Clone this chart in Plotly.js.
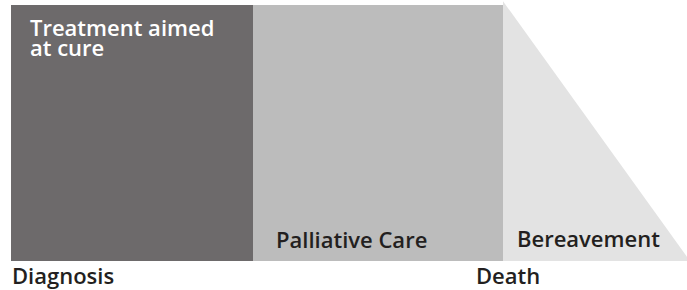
<!DOCTYPE html>
<html><head><meta charset="utf-8">
<script src="https://cdn.plot.ly/plotly-3.0.1.min.js"></script>
<style>html,body{margin:0;padding:0;background:#fff}#chart{width:687px;height:290px}</style>
</head><body><div id="chart"></div>
<script>
// Phases of care along the timeline (arbitrary time units)
const phases = ['Treatment aimed at cure', 'Palliative Care', 'Bereavement'];
const phaseLabelLines = [['Treatment aimed', 'at cure'], ['Palliative Care'], ['Bereavement']];
const phaseStart = [0, 242, 492];
const phaseEnd = [242, 492, 679];
const phaseLevel = [100, 100, 101.5];        // relative intensity at start of phase
const phaseEndLevel = [100, 100, 0];         // bereavement tapers off
const phaseColors = ['#6d6a6b', '#bcbcbc', '#e3e3e3'];
const phaseTextColors = ['#ffffff', '#231f20', '#231f20'];
const milestones = ['Diagnosis', 'Death'];
const milestoneX = [0, 492];

const traces = phases.map((p, i) => ({
  type: 'scatter', mode: 'lines', fill: 'toself',
  x: [phaseStart[i], phaseStart[i], phaseEnd[i], phaseEnd[i], phaseStart[i]],
  y: [0, phaseLevel[i], phaseEndLevel[i], 0, 0],
  fillcolor: phaseColors[i], line: {width: 0, color: phaseColors[i]},
  hoverinfo: 'skip', showlegend: false, name: p
}));

const font = 'Open Sans, Noto Sans, sans-serif';
const fs = 22;
const mk = (x, y, text, color, anchor) => ({
  x: x, y: y, text: text, xanchor: anchor || 'left', yanchor: 'middle',
  font: {family: font, size: fs, color: color, weight: 600}, showarrow: false
});
const annotations = [
  mk(phaseStart[0] + 17, 91.6, phaseLabelLines[0][0], phaseTextColors[0]),
  mk(phaseStart[0] + 17, 83.4, phaseLabelLines[0][1], phaseTextColors[0]),
  mk(phaseStart[1] + 21, 8.4, phaseLabelLines[1][0], phaseTextColors[1]),
  mk(phaseStart[2] + 12, 8.8, phaseLabelLines[2][0], phaseTextColors[2]),
  mk(milestoneX[0] - 1, -5.3, milestones[0], '#231f20'),
  mk(milestoneX[1] + 5, -5.3, milestones[1], '#231f20', 'center')
];

const layout = {
  width: 687, height: 290,
  margin: {l: 0, r: 0, t: 0, b: 0},
  paper_bgcolor: '#ffffff', plot_bgcolor: '#ffffff',
  xaxis: {range: [-11, 676], visible: false, fixedrange: true},
  yaxis: {range: [-11.33, 101.95], visible: false, fixedrange: true},
  annotations: annotations,
  showlegend: false
};
Plotly.newPlot('chart', traces, layout, {staticPlot: true, displayModeBar: false});
</script></body></html>
